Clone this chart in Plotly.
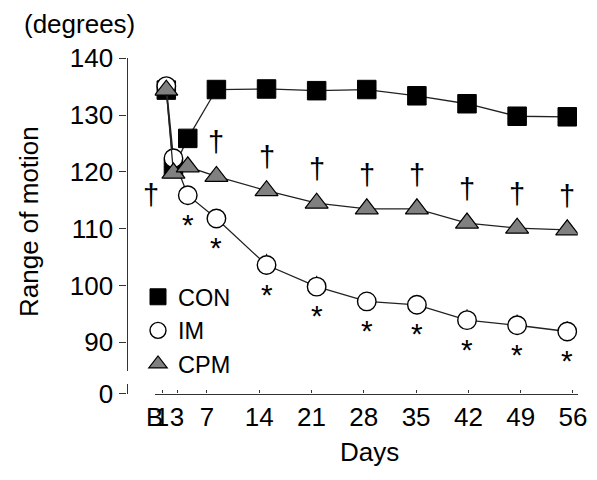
import plotly.graph_objects as go

# ---------------- data ----------------
days = [0, 1, 3, 7, 14, 21, 28, 35, 42, 49, 56]
tick_labels = ['B', '1', '3', '7', '14', '21', '28', '35', '42', '49', '56']
con = [134.4, 120.6, 125.9, 134.5, 134.6, 134.3, 134.5, 133.4, 132.0, 129.8, 129.7]
im = [135.1, 122.4, 115.9, 111.8, 103.6, 99.8, 97.2, 96.6, 93.9, 93.0, 91.9]
cpm = [134.4, 119.8, 120.9, 119.2, 116.7, 114.5, 113.5, 113.5, 111.0, 110.1, 109.8]
im_err = [0, 0, 0, 0, 2.0, 1.9, 1.2, 1.2, 1.9, 1.9, 1.8]
cpm_err = [0, 0, 0, 0, 0, 0, 0, 0, 1.6, 1.6, 1.5]
dagger_days = [1, 7, 14, 21, 28, 35, 42, 49, 56]
asterisk_days = [3, 7, 14, 21, 28, 35, 42, 49, 56]
y_ticks = [90, 100, 110, 120, 130, 140]
y_break_ticks = [0]

# ---------------- styling ----------------
W, H = 597, 480
FONT = "Liberation Sans, Arial, Helvetica, sans-serif"
FS = 26
AX = "#333333"
LINE = "#222222"


def px_x(p):
    return p / W


def px_y(p):
    return 1 - p / H


x_dom = [px_x(154.6), px_x(577.7)]
y_axis_pos = px_x(126.5)

fig = go.Figure()

series = [
    ("CON", con, None, dict(symbol="square", size=18.5, color="black",
                            line=dict(color="black", width=1))),
    ("IM", im, im_err, dict(symbol="circle", size=18.5, color="white",
                            line=dict(color="black", width=1.4))),
    ("CPM", cpm, cpm_err, dict(symbol="triangle-up", size=20, color="#808080",
                               line=dict(color="black", width=1.2))),
]

# invisible helper trace so the tick axis and the axis-break stub get drawn
fig.add_trace(go.Scatter(x=[None], y=[None], xaxis="x", yaxis="y3",
                         mode="markers", showlegend=False, hoverinfo="skip"))

for name, vals, err, mk in series:
    kw = {}
    if err is not None:
        kw["error_y"] = dict(type="data", symmetric=False, array=err,
                             arrayminus=[0] * len(err), width=0,
                             thickness=1.2, color=LINE)
    fig.add_trace(go.Scatter(x=days, y=vals, mode="lines+markers", name=name,
                             line=dict(color=LINE, width=1.3), marker=mk,
                             xaxis="x2", yaxis="y", showlegend=False,
                             hoverinfo="skip", **kw))

for name, vals, err, mk in series:
    fig.add_trace(go.Scatter(x=[None], y=[None], mode="markers", name=name,
                             marker=mk, xaxis="x2", yaxis="y", showlegend=True))

annotations = []
for d in dagger_days:
    v = cpm[days.index(d)]
    xs, ys = (0, 34) if d != 1 else (-22, -22)
    annotations.append(dict(x=d, y=v, xref="x2", yref="y", text="†",
                            showarrow=False, xshift=xs, yshift=ys,
                            xanchor="center", yanchor="middle",
                            font=dict(family=FONT, size=29, color="black")))
for d in asterisk_days:
    v = im[days.index(d)]
    annotations.append(dict(x=d, y=v, xref="x2", yref="y", text="*",
                            showarrow=False, yshift=-29,
                            xanchor="center", yanchor="middle",
                            font=dict(family=FONT, size=30, color="black")))

annotations += [
    dict(x=px_x(79), y=px_y(24), xref="paper", yref="paper", text="(degrees)",
         showarrow=False, xanchor="center", yanchor="middle",
         font=dict(family=FONT, size=FS, color="black")),
    dict(x=px_x(29), y=px_y(222), xref="paper", yref="paper",
         text="Range of motion", textangle=-90, showarrow=False,
         xanchor="center", yanchor="middle",
         font=dict(family=FONT, size=FS, color="black")),
    dict(x=px_x(369), y=px_y(452), xref="paper", yref="paper", text="Days",
         showarrow=False, xanchor="center", yanchor="middle",
         font=dict(family=FONT, size=FS, color="black")),
]

axis_common = dict(showline=True, linecolor=AX, linewidth=1.2,
                   tickcolor=AX, tickwidth=1.2, showgrid=False, zeroline=False,
                   automargin=False, tickangle=0,
                   tickfont=dict(family=FONT, size=FS, color="black"))

fig.update_layout(
    template="none",
    width=W, height=H, autosize=False,
    margin=dict(l=0, r=0, t=0, b=0, pad=0, autoexpand=False),
    paper_bgcolor="white", plot_bgcolor="white",
    font=dict(family=FONT, size=FS, color="black"),
    xaxis=dict(domain=x_dom, range=[0, 56.63], tickmode="array",
               tickvals=days, ticktext=tick_labels, anchor="y3",
               ticks="inside", ticklen=3, ticklabelstandoff=0, **axis_common),
    xaxis2=dict(domain=x_dom, range=[-1.634, 57.46], overlaying="x",
                anchor="y", visible=False, automargin=False),
    yaxis=dict(domain=[px_y(371), px_y(58.3)], range=[84.95, 140],
               tickmode="array", tickvals=y_ticks, anchor="free",
               position=y_axis_pos, ticks="outside", ticklen=7,
               ticklabelstandoff=1, **axis_common),
    yaxis3=dict(domain=[px_y(393.5), px_y(384)], range=[0, 1],
                tickmode="array", tickvals=y_break_ticks, anchor="free",
                position=y_axis_pos, ticks="outside", ticklen=7,
                ticklabelstandoff=1, **axis_common),
    legend=dict(x=px_x(138), y=px_y(275), xanchor="left", yanchor="top",
                bgcolor="rgba(0,0,0,0)", borderwidth=0, tracegroupgap=0,
                font=dict(family=FONT, size=23.5, color="black")),
    annotations=annotations,
    showlegend=True,
)

fig.write_html("out.html",
               config={"displayModeBar": False},
               post_script="document.body.style.margin='0px';"
                           "document.body.style.overflow='hidden';")
